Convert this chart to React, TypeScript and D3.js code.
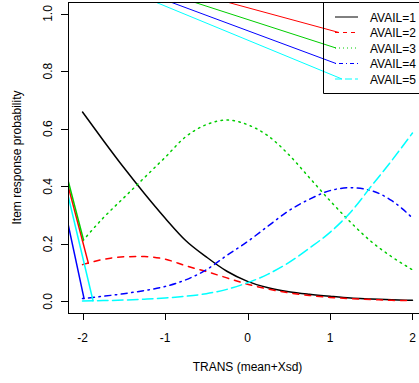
import React from 'react';
import * as d3 from 'd3';

// TRANS grid (mean + X sd) and category response probabilities
const transGrid = [-2, -1.75, -1.5, -1.25, -1, -0.75, -0.5, -0.25, 0, 0.25, 0.5, 0.75, 1, 1.25, 1.5, 1.75, 2];
const avail1 = [0.658, 0.56, 0.465, 0.375, 0.29, 0.212, 0.155, 0.105, 0.07, 0.048, 0.034, 0.025, 0.018, 0.012, 0.009, 0.006, 0.004];
const avail2 = [0.128, 0.146, 0.155, 0.156, 0.147, 0.124, 0.104, 0.082, 0.06, 0.043, 0.03, 0.021, 0.014, 0.01, 0.007, 0.004, 0.003];
const avail3 = [0.21, 0.29, 0.36, 0.43, 0.5, 0.572, 0.614, 0.63, 0.614, 0.575, 0.51, 0.43, 0.35, 0.275, 0.208, 0.155, 0.11];
const avail4 = [0.01, 0.018, 0.027, 0.038, 0.052, 0.075, 0.11, 0.16, 0.208, 0.262, 0.315, 0.355, 0.385, 0.395, 0.385, 0.35, 0.29];
const avail5 = [0.002, 0.003, 0.005, 0.008, 0.012, 0.018, 0.027, 0.042, 0.065, 0.095, 0.135, 0.185, 0.24, 0.31, 0.4, 0.49, 0.585];

const seriesLabels = ['AVAIL=1', 'AVAIL=2', 'AVAIL=3', 'AVAIL=4', 'AVAIL=5'];
const xTicks = [-2, -1, 0, 1, 2];
const yTicks = [0, 0.2, 0.4, 0.6, 0.8, 1.0];

// stray pen segments: curve strokes entering from the left edge, legend strokes from above
const leftStrayStart = [null, 0.403, 0.421, 0.27, 0.369];
const topStrayOrigin = [-2.794, 1.238];

const colors = ['#000000', '#FF0000', '#00CD00', '#0000FF', '#00FFFF'];
const dashUnits: (number[] | null)[] = [null, [4, 4], [1, 3], [1, 3, 4, 3], [7, 3]];

const W = 419;
const H = 383;
const left = 68, right = 427, top = 2, bottom = 313;
const font = '"Liberation Sans", Arial, Helvetica, sans-serif';

export default function App() {
  const series = [avail1, avail2, avail3, avail4, avail5];
  const x = d3.scaleLinear().domain([-2.176, 2.176]).range([left, right]);
  const y = d3.scaleLinear().domain([-0.04, 1.04]).range([bottom, top]);
  const line = d3
    .line<number>()
    .x((_, i) => x(transGrid[i]))
    .y((d) => y(d))
    .curve(d3.curveMonotoneX);

  const curveLwd = 1.5;
  const curveDash = (i: number) => (dashUnits[i] ? dashUnits[i]!.map((d) => d * curveLwd).join(',') : undefined);
  const legendDash = (i: number) => (dashUnits[i] ? dashUnits[i]!.join(',') : undefined);

  // end of the first dash along a curve's first segment
  const firstDashEnd = (vals: number[], i: number) => {
    const p0 = [x(transGrid[0]), y(vals[0])];
    const p1 = [x(transGrid[1]), y(vals[1])];
    const len = Math.hypot(p1[0] - p0[0], p1[1] - p0[1]);
    const d = dashUnits[i] ? dashUnits[i]![0] * curveLwd : 0;
    return [p0[0] + ((p1[0] - p0[0]) * d) / len, p0[1] + ((p1[1] - p0[1]) * d) / len];
  };

  const legLeft = 323.5;
  const legBottom = 93.5;
  const rowY = (i: number) => 17 + i * 15.5;
  const sampleX0 = 335;
  const sampleX1 = 358;
  const textX = 370;

  return (
    <svg width={W} height={H} style={{ position: 'absolute', left: 0, top: 0, background: '#fff' }}>
      <defs>
        <clipPath id="plotClip">
          <rect x={left} y={top} width={right - left} height={bottom - top} />
        </clipPath>
      </defs>
      <rect x={0} y={0} width={W} height={H} fill="#fff" />

      <g clipPath="url(#plotClip)" fill="none">
        {series.map((vals, i) => (
          <path
            key={'c' + i}
            d={line(vals) || ''}
            stroke={colors[i]}
            strokeWidth={curveLwd}
            strokeDasharray={curveDash(i)}
            strokeLinecap="round"
            strokeLinejoin="round"
          />
        ))}
        {series.map((vals, i) => {
          const s = leftStrayStart[i];
          if (s === null) return null;
          const e = firstDashEnd(vals, i);
          return (
            <line
              key={'ls' + i}
              x1={x(-2.176)}
              y1={y(s)}
              x2={e[0]}
              y2={e[1]}
              stroke={colors[i]}
              strokeWidth={curveLwd}
              strokeLinecap="round"
            />
          );
        })}
        {series.map((_, i) => {
          if (i === 0) return null;
          const ex = sampleX0 + (dashUnits[i] ? dashUnits[i]![0] : 0);
          return (
            <line
              key={'ts' + i}
              x1={x(topStrayOrigin[0])}
              y1={y(topStrayOrigin[1])}
              x2={ex}
              y2={rowY(i)}
              stroke={colors[i]}
              strokeWidth={1}
            />
          );
        })}
      </g>

      {/* plot frame */}
      <rect x={left + 0.5} y={top + 0.5} width={right - left} height={bottom - top} fill="none" stroke="#000" strokeWidth={1} />

      {/* x axis */}
      <g fontFamily={font} fontSize={12} fill="#000">
        {xTicks.map((t) => (
          <g key={'xt' + t}>
            <line x1={Math.round(x(t)) + 0.5} x2={Math.round(x(t)) + 0.5} y1={bottom} y2={bottom + 7} stroke="#000" />
            <text x={x(t)} y={342} textAnchor="middle">{String(t)}</text>
          </g>
        ))}
        <text x={(left + right) / 2} y={371} textAnchor="middle">TRANS (mean+Xsd)</text>
      </g>

      {/* y axis */}
      <g fontFamily={font} fontSize={12} fill="#000">
        {yTicks.map((t) => (
          <g key={'yt' + t}>
            <line x1={left - 7} x2={left} y1={Math.round(y(t)) + 0.5} y2={Math.round(y(t)) + 0.5} stroke="#000" />
            <text transform={`translate(52,${y(t)}) rotate(-90)`} textAnchor="middle">{t.toFixed(1)}</text>
          </g>
        ))}
        <text transform={`translate(21,${(top + bottom) / 2}) rotate(-90)`} textAnchor="middle">Item response probability</text>
      </g>

      {/* legend */}
      <g>
        <path d={`M${legLeft},${top} L${legLeft},${legBottom} L${W + 5},${legBottom}`} fill="none" stroke="#000" strokeWidth={1} />
        {seriesLabels.map((lab, i) => (
          <g key={'lg' + i}>
            <line
              x1={sampleX0}
              x2={sampleX1}
              y1={rowY(i)}
              y2={rowY(i)}
              stroke={colors[i]}
              strokeWidth={1}
              strokeDasharray={legendDash(i)}
            />
            <text x={textX} y={rowY(i) + 4.5} fontFamily={font} fontSize={12} fill="#000">{lab}</text>
          </g>
        ))}
      </g>
    </svg>
  );
}
